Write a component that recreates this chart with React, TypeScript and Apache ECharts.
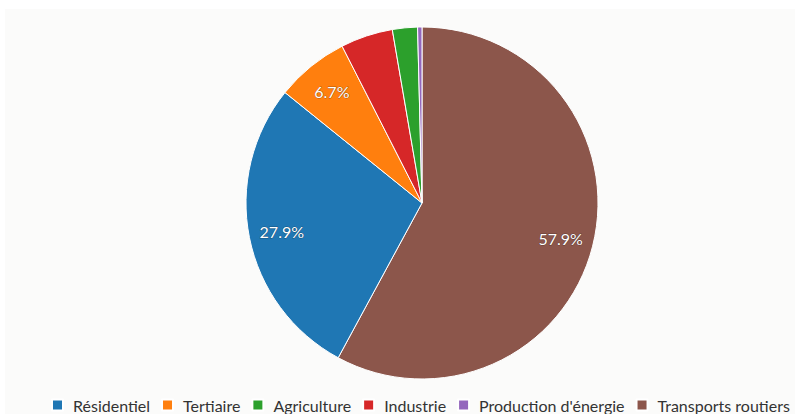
import React, { useEffect, useRef } from "react";
import * as echarts from "echarts";

const categories = ["Transports routiers", "Résidentiel", "Tertiaire", "Industrie", "Agriculture", "Production d'énergie"];
const values = [57.9, 27.9, 6.7, 4.8, 2.3, 0.4];
const colors = ["#8c564b", "#1f77b4", "#ff7f0e", "#d62728", "#2ca02c", "#9467bd"];
const legendOrder = ["Résidentiel", "Tertiaire", "Agriculture", "Industrie", "Production d'énergie", "Transports routiers"];

export default function App() {
  const ref = useRef<HTMLDivElement>(null);
  useEffect(() => {
    if (!ref.current) return;
    const chart = echarts.init(ref.current, undefined, { renderer: "svg" });
    const data = categories.map((name, i) => ({ name, value: values[i], itemStyle: { color: colors[i] } }));
    chart.setOption({
      animation: false,
      backgroundColor: "#fbfbfa",
      legend: {
        data: legendOrder,
        left: 46,
        top: 388,
        width: 800,
        padding: 0,
        icon: "rect",
        itemWidth: 11,
        itemHeight: 11,
        itemGap: 11,
        textStyle: { fontFamily: "Lato", fontSize: 16, color: "#333", padding: [0, 0, 0, 5] },
      },
      series: [
        {
          type: "pie",
          center: [417, 194],
          radius: [0, 176],
          startAngle: 90,
          clockwise: true,
          data,
          label: { show: false },
          labelLine: { show: false },
          itemStyle: { borderColor: "#ffffff", borderWidth: 1 },
          silent: true,
        },
        {
          type: "pie",
          center: [417, 194],
          radius: [0, 280],
          startAngle: 90,
          clockwise: true,
          silent: true,
          data: categories.map((name, i) => ({ name, value: values[i] })),
          itemStyle: { color: "rgba(0,0,0,0)" },
          labelLine: { show: false },
          label: {
            show: true,
            position: "inside",
            formatter: (p: any) => (p.value >= 5 ? `${p.value.toFixed(1)}%` : ""),
            color: "#ffffff",
            fontFamily: "Lato",
            fontSize: 16,
            textBorderColor: "rgba(0,0,0,0.35)",
            textBorderWidth: 1,
          },
        },
      ],
    });
    return () => chart.dispose();
  }, []);
  return (
    <div style={{ position: "absolute", left: 0, top: 0, width: 795, height: 414, background: "#ffffff", overflow: "hidden" }}>
      <div ref={ref} style={{ position: "absolute", left: 5, top: 9, width: 790, height: 405 }} />
    </div>
  );
}
